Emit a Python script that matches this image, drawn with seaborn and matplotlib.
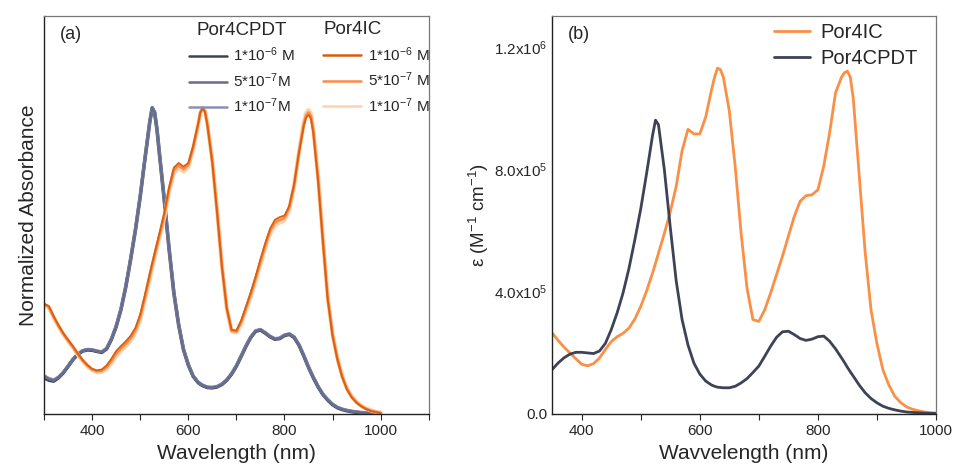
import numpy as np
import pandas as pd
import matplotlib.pyplot as plt
import seaborn as sns
from matplotlib.lines import Line2D

# ---- panel (a): normalized absorbance at three concentrations ----
wl_a = (list(range(300, 521, 10)) + [525, 530, 535] + list(range(540, 621, 10))
        + [625, 630, 635] + list(range(640, 841, 10)) + [845, 850, 855]
        + list(range(860, 1001, 10)))

cpdt_1e6 = [0.118, 0.110, 0.107, 0.118, 0.134, 0.155, 0.177, 0.194, 0.205, 0.209, 0.208, 0.204,
            0.201, 0.212, 0.243, 0.285, 0.341, 0.415, 0.504, 0.600, 0.710, 0.835, 0.955,
            1.000, 0.985, 0.928,
            0.850, 0.700, 0.540, 0.395, 0.290, 0.210, 0.160, 0.123, 0.103,
            0.097, 0.092, 0.089,
            0.086, 0.085, 0.088, 0.096, 0.110, 0.130, 0.156, 0.188, 0.221, 0.250, 0.270,
            0.274, 0.264, 0.252, 0.244, 0.246, 0.256, 0.260, 0.250, 0.225, 0.190,
            0.171, 0.152, 0.135,
            0.118, 0.088, 0.063, 0.045, 0.030, 0.020, 0.014, 0.010, 0.007, 0.005, 0.003,
            0.002, 0.001, 0.000, 0.000]
cpdt_5e7 = [0.122, 0.113, 0.109, 0.119, 0.135, 0.156, 0.178, 0.195, 0.206, 0.210, 0.209, 0.205,
            0.202, 0.213, 0.244, 0.286, 0.342, 0.416, 0.505, 0.601, 0.711, 0.836, 0.956,
            1.000, 0.985, 0.929,
            0.851, 0.701, 0.541, 0.396, 0.291, 0.211, 0.161, 0.124, 0.104,
            0.098, 0.093, 0.090,
            0.087, 0.086, 0.089, 0.097, 0.111, 0.131, 0.157, 0.189, 0.222, 0.251, 0.271,
            0.275, 0.265, 0.253, 0.245, 0.247, 0.257, 0.261, 0.251, 0.226, 0.191,
            0.172, 0.153, 0.136,
            0.119, 0.089, 0.064, 0.046, 0.031, 0.021, 0.015, 0.011, 0.008, 0.006, 0.004,
            0.003, 0.002, 0.001, 0.000]
cpdt_1e7 = [0.125, 0.116, 0.111, 0.120, 0.136, 0.157, 0.179, 0.196, 0.207, 0.211, 0.210, 0.206,
            0.203, 0.214, 0.245, 0.287, 0.343, 0.417, 0.506, 0.602, 0.712, 0.837, 0.957,
            1.000, 0.986, 0.930,
            0.852, 0.702, 0.542, 0.397, 0.292, 0.212, 0.162, 0.125, 0.105,
            0.099, 0.094, 0.091,
            0.088, 0.087, 0.090, 0.098, 0.112, 0.132, 0.158, 0.190, 0.223, 0.252, 0.272,
            0.276, 0.266, 0.254, 0.246, 0.248, 0.258, 0.262, 0.252, 0.227, 0.192,
            0.173, 0.154, 0.137,
            0.120, 0.090, 0.065, 0.047, 0.032, 0.022, 0.016, 0.012, 0.009, 0.007, 0.005,
            0.004, 0.003, 0.002, 0.001]

ic_1e6 = [0.360, 0.352, 0.319, 0.290, 0.264, 0.242, 0.221, 0.198, 0.177, 0.160, 0.147, 0.142,
          0.145, 0.158, 0.180, 0.205, 0.222, 0.237, 0.255, 0.281, 0.325, 0.390, 0.460,
          0.493, 0.526, 0.558,
          0.590, 0.656, 0.740, 0.805, 0.820, 0.808, 0.820, 0.875, 0.945,
          0.985, 1.000, 0.985,
          0.940, 0.820, 0.656, 0.480, 0.345, 0.275, 0.272, 0.305, 0.351, 0.398, 0.449,
          0.505, 0.558, 0.605, 0.634, 0.643, 0.648, 0.680, 0.750, 0.852, 0.940,
          0.968, 0.977, 0.965,
          0.917, 0.760, 0.560, 0.373, 0.255, 0.177, 0.120, 0.079, 0.053, 0.036, 0.024,
          0.015, 0.009, 0.005, 0.003]
ic_5e7 = [0.358, 0.350, 0.317, 0.288, 0.262, 0.240, 0.219, 0.196, 0.175, 0.158, 0.145, 0.139,
          0.141, 0.152, 0.173, 0.197, 0.214, 0.229, 0.247, 0.273, 0.317, 0.382, 0.452,
          0.486, 0.519, 0.551,
          0.583, 0.649, 0.733, 0.797, 0.812, 0.800, 0.813, 0.870, 0.942,
          0.984, 1.000, 0.987,
          0.943, 0.824, 0.660, 0.482, 0.345, 0.272, 0.269, 0.300, 0.345, 0.391, 0.442,
          0.497, 0.550, 0.597, 0.625, 0.634, 0.640, 0.674, 0.747, 0.853, 0.945,
          0.975, 0.985, 0.973,
          0.925, 0.767, 0.566, 0.377, 0.258, 0.180, 0.122, 0.081, 0.055, 0.037, 0.025,
          0.016, 0.010, 0.006, 0.003]
ic_1e7 = [0.356, 0.348, 0.315, 0.286, 0.260, 0.238, 0.217, 0.194, 0.173, 0.156, 0.143, 0.136,
          0.137, 0.147, 0.166, 0.189, 0.206, 0.221, 0.239, 0.265, 0.309, 0.374, 0.444,
          0.479, 0.512, 0.544,
          0.576, 0.642, 0.726, 0.789, 0.804, 0.792, 0.806, 0.865, 0.939,
          0.983, 1.000, 0.989,
          0.946, 0.828, 0.664, 0.484, 0.345, 0.269, 0.266, 0.295, 0.339, 0.384, 0.435,
          0.489, 0.542, 0.589, 0.616, 0.625, 0.632, 0.668, 0.744, 0.854, 0.950,
          0.983, 0.993, 0.981,
          0.933, 0.774, 0.572, 0.381, 0.261, 0.183, 0.124, 0.083, 0.057, 0.038, 0.026,
          0.017, 0.011, 0.006, 0.004]

# ---- panel (b): molar extinction coefficient ----
wl_b = (list(range(350, 521, 10)) + [525] + list(range(530, 621, 10))
        + [625, 630, 635] + list(range(640, 841, 10)) + [845, 850, 855]
        + list(range(860, 1001, 10)))

eps_ic = [2.64e5, 2.40e5, 2.18e5, 1.99e5, 1.80e5, 1.62e5, 1.57e5, 1.64e5, 1.82e5, 2.10e5,
          2.36e5, 2.52e5, 2.63e5, 2.80e5, 3.10e5, 3.51e5, 4.02e5, 4.60e5,
          4.92e5,
          5.25e5, 5.90e5, 6.60e5, 7.43e5, 8.60e5, 9.30e5, 9.15e5, 9.15e5, 9.70e5, 1.06e6,
          1.10e6, 1.13e6, 1.125e6,
          1.10e6, 9.90e5, 8.08e5, 5.90e5, 4.10e5, 3.08e5, 3.02e5, 3.40e5, 3.95e5, 4.55e5,
          5.15e5, 5.80e5, 6.45e5, 6.95e5, 7.13e5, 7.16e5, 7.32e5, 8.10e5, 9.20e5, 1.05e6,
          1.10e6,
          1.115e6, 1.12e6, 1.10e6,
          1.03e6, 7.80e5, 5.30e5, 3.40e5, 2.30e5, 1.45e5, 9.50e4, 5.80e4, 3.70e4, 2.30e4,
          1.50e4, 1.00e4, 6.00e3, 3.00e3, 0.0]
eps_cpdt = [1.45e5, 1.66e5, 1.83e5, 1.95e5, 2.01e5, 2.01e5, 1.99e5, 1.97e5, 2.05e5, 2.30e5,
            2.75e5, 3.30e5, 3.95e5, 4.75e5, 5.69e5, 6.70e5, 7.87e5, 9.10e5,
            9.60e5,
            9.45e5, 7.98e5, 6.10e5, 4.35e5, 3.08e5, 2.25e5, 1.66e5, 1.30e5, 1.07e5, 9.40e4,
            9.00e4, 8.70e4, 8.60e4,
            8.50e4, 8.50e4, 9.00e4, 1.01e5, 1.15e5, 1.35e5, 1.56e5, 1.88e5, 2.21e5, 2.50e5,
            2.68e5, 2.70e5, 2.59e5, 2.46e5, 2.40e5, 2.44e5, 2.52e5, 2.54e5, 2.37e5, 2.12e5,
            1.83e5,
            1.68e5, 1.52e5, 1.37e5,
            1.23e5, 9.40e4, 6.90e4, 5.00e4, 3.60e4, 2.50e4, 1.80e4, 1.30e4, 9.00e3, 6.00e3,
            4.50e3, 3.50e3, 2.50e3, 2.00e3, 2.00e3]

conc_labels = [r"1*10$^{-6}$ M", r"5*10$^{-7}$M", r"1*10$^{-7}$M"]
ic_labels = [r"1*10$^{-6}$ M", r"5*10$^{-7}$ M", r"1*10$^{-7}$ M"]

cpdt_colors = ["#3d4256", "#666d8e", "#8a90b2"]
ic_colors = ["#d95f0e", "#fb8b45", "#fcd2b2"]

sns.set_style("ticks")
plt.rcParams['font.family'] = ['Liberation Sans', 'DejaVu Sans']
plt.rcParams['mathtext.fontset'] = 'custom'
plt.rcParams['mathtext.rm'] = 'Liberation Sans'
plt.rcParams['mathtext.it'] = 'Liberation Sans'

fig = plt.figure(figsize=(9.57, 4.74), dpi=100)
ax1 = fig.add_axes([0.046, 0.127, 0.402, 0.839])
ax2 = fig.add_axes([0.577, 0.127, 0.401, 0.839])

lw = 1.8
# drawn wide-to-narrow so all three traces stay visible where they overlap
cpdt_a = [cpdt_1e6, cpdt_1e7, cpdt_5e7]
for ys, c, w in zip(cpdt_a, [cpdt_colors[0], cpdt_colors[2], cpdt_colors[1]], [2.6, 2.2, 1.8]):
    sns.lineplot(x=wl_a, y=ys, ax=ax1, color=c, lw=w, sort=False, estimator=None)
ic_a = [ic_1e7, ic_5e7, ic_1e6]
for ys, c, w in zip(ic_a, ic_colors[::-1], [3.0, 2.0, 1.3]):
    sns.lineplot(x=wl_a, y=ys, ax=ax1, color=c, lw=w, sort=False, estimator=None)

ax1.set_xlim(300, 1100)
ax1.set_ylim(0, 1.3)
ax1.set_xticks(range(300, 1101, 100))
ax1.set_xticklabels(["" if v % 200 else str(v) for v in range(300, 1101, 100)])
ax1.set_yticks([])
ax1.set_xlabel("Wavelength (nm)", fontsize=15)
ax1.set_ylabel("Normalized Absorbance", fontsize=15)
ax1.text(0.04, 0.975, "(a)", transform=ax1.transAxes, fontsize=13, va="top")

h1 = [Line2D([], [], color=c, lw=lw) for c in cpdt_colors]
leg1 = ax1.legend(h1, conc_labels, title="Por4CPDT", loc="upper left",
                  bbox_to_anchor=(0.34, 1.02), frameon=False, fontsize=11,
                  title_fontsize=13.5, handlelength=2.5, handletextpad=0.4,
                  labelspacing=0.45)
ax1.add_artist(leg1)
h2 = [Line2D([], [], color=c, lw=lw) for c in ic_colors]
leg2 = ax1.legend(h2, ic_labels, title="Por4IC", loc="upper left",
                  bbox_to_anchor=(0.69, 1.022), frameon=False, fontsize=11,
                  title_fontsize=13.5, handlelength=2.5, handletextpad=0.4,
                  labelspacing=0.45)
leg2._legend_box.align = "left"

sns.lineplot(x=wl_b, y=eps_ic, ax=ax2, color="#fb8f45", lw=2.0, sort=False,
             estimator=None, label="Por4IC")
sns.lineplot(x=wl_b, y=eps_cpdt, ax=ax2, color="#3d4256", lw=2.0, sort=False,
             estimator=None, label="Por4CPDT")
ax2.set_xlim(350, 1000)
ax2.set_ylim(0, 1.3e6)
ax2.set_xticks(range(400, 1001, 100))
ax2.set_xticklabels(["" if v % 200 else str(v) for v in range(400, 1001, 100)])
ax2.set_yticks([0, 4e5, 8e5, 1.2e6])
ax2.set_yticklabels(["0.0", r"4.0x10$^{5}$", r"8.0x10$^{5}$", r"1.2x10$^{6}$"])
ax2.tick_params(axis="y", length=0, labelsize=11)
ax2.set_xlabel("Wavvelength (nm)", fontsize=15)
ax2.set_ylabel(r"ε (M$^{-1}$ cm$^{-1}$)", fontsize=13.5, labelpad=2)
ax2.text(0.04, 0.975, "(b)", transform=ax2.transAxes, fontsize=13, va="top")
ax2.legend(loc="upper right", bbox_to_anchor=(1.0, 1.028), frameon=False,
           fontsize=14.5, handlelength=1.8, handletextpad=0.5, labelspacing=0.35)

for ax in (ax1, ax2):
    ax.tick_params(axis="x", direction="out", length=4, width=0.8, labelsize=11)
    for s in ("left", "bottom"):
        ax.spines[s].set_color("#222222")
        ax.spines[s].set_linewidth(1.0)
    for s in ("top", "right"):
        ax.spines[s].set_visible(True)
        ax.spines[s].set_color("#777777")
        ax.spines[s].set_linewidth(0.9)

fig.savefig("out.png", dpi=100)
